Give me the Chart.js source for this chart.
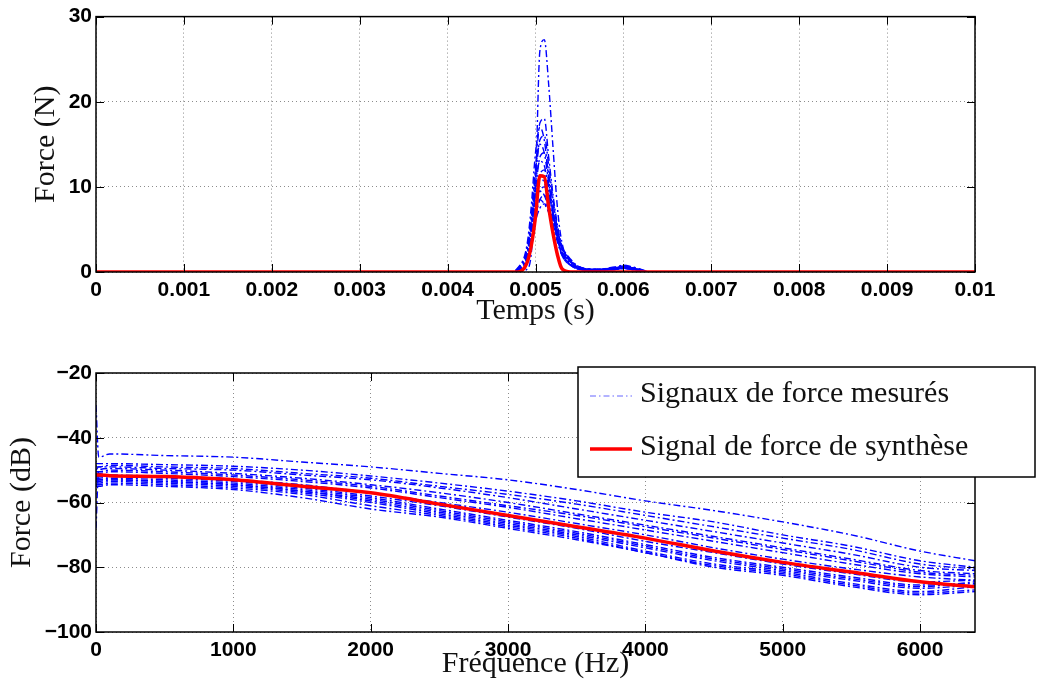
<!DOCTYPE html>
<html>
<head>
<meta charset="utf-8">
<title>Force</title>
<script src="https://cdn.jsdelivr.net/npm/chart.js@4.4.0/dist/chart.umd.min.js"></script>
<style>
    html, body { margin: 0; padding: 0; background: #fff; }
    #wrap { position: relative; width: 1041px; height: 685px; }
    #topChart { position: absolute; left: 0; top: 0; }
    #botChart { position: absolute; left: 0; top: 345px; }
</style>
</head>
<body>
<div id="wrap">
    <canvas id="topChart" width="1041" height="345"></canvas>
    <canvas id="botChart" width="1041" height="340"></canvas>
</div>
<script>
// ---- Top plot: time signals ----
const timeVals = [0, 0.0047, 0.0048, 0.0049, 0.00495, 0.005, 0.00505, 0.0051, 0.00515, 0.0052, 0.00525,
                  0.0053, 0.0054, 0.0055, 0.0057, 0.0059, 0.0060, 0.0061, 0.0062, 0.0063, 0.01];
const synthPulse = [0, 0, 0, 1, 3, 6.5, 11.3, 11.2, 7.6, 4.5, 2, 0.4, 0, 0, 0, 0, 0, 0, 0, 0, 0];
const measuredPulses = [
    [0, 0, 0, 0.3, 2, 10, 26, 27.3, 22, 14.5, 7.5, 3.5, 1.2, 0.5, 0.3, 0.5, 0.7, 0.6, 0.3, 0, 0],
    [0, 0, 0.3, 2, 6, 12, 17.5, 18, 13.5, 9, 5.5, 3, 1.2, 0.5, 0.2, 0.4, 0.6, 0.5, 0.2, 0, 0],
    [0, 0, 0.5, 3, 7.5, 14, 17, 15.5, 11, 7, 4, 2, 0.8, 0.3, 0.2, 0.3, 0.5, 0.4, 0.2, 0, 0],
    [0, 0, 0.2, 1.5, 5, 11, 15.5, 16, 12.5, 8.5, 5, 2.8, 1.2, 0.5, 0.3, 0.6, 0.8, 0.6, 0.3, 0, 0],
    [0, 0, 0.4, 2.5, 6.5, 12, 15, 14, 10.5, 7, 4, 2, 0.8, 0.3, 0.2, 0.3, 0.4, 0.3, 0.1, 0, 0],
    [0, 0, 0.2, 1.5, 4.5, 9.5, 13.5, 14, 11.5, 8, 5, 3, 1.3, 0.5, 0.3, 0.5, 0.6, 0.5, 0.2, 0, 0],
    [0, 0, 0.4, 2.5, 6, 10.5, 13, 12.5, 9.5, 6.5, 4, 2.2, 0.9, 0.4, 0.2, 0.4, 0.5, 0.4, 0.2, 0, 0],
    [0, 0, 0.2, 1.8, 5, 9.5, 11.5, 12, 10, 7, 4.5, 2.6, 1.1, 0.5, 0.3, 0.4, 0.5, 0.4, 0.2, 0, 0],
    [0, 0, 0.4, 2.5, 5.5, 9, 11, 10.5, 8.5, 6, 4, 2.2, 0.9, 0.4, 0.3, 0.5, 0.7, 0.5, 0.2, 0, 0],
    [0, 0, 0.2, 1.5, 4, 7.5, 9.5, 10, 9, 7, 4.8, 3, 1.4, 0.6, 0.3, 0.4, 0.5, 0.4, 0.2, 0, 0],
    [0, 0, 0.3, 2, 5, 8, 9.5, 9, 7.5, 5.5, 3.5, 2, 0.8, 0.3, 0.2, 0.3, 0.4, 0.3, 0.1, 0, 0],
    [0, 0, 0.2, 1.3, 3.5, 6.5, 8.5, 9, 8, 6.5, 4.5, 3, 1.5, 0.6, 0.3, 0.5, 0.6, 0.5, 0.2, 0, 0],
    [0, 0, 0.3, 1.8, 4.5, 7, 8.5, 8, 7, 5.5, 3.8, 2.4, 1, 0.4, 0.2, 0.3, 0.4, 0.3, 0.1, 0, 0],
    [0, 0, 0.2, 1.2, 3.2, 6, 7.5, 8, 7.5, 6, 4.2, 2.8, 1.3, 0.6, 0.3, 0.4, 0.5, 0.4, 0.2, 0, 0]
];
const timeTicks = [0, 0.001, 0.002, 0.003, 0.004, 0.005, 0.006, 0.007, 0.008, 0.009, 0.01];
const timeTickLabels = ['0', '0.001', '0.002', '0.003', '0.004', '0.005', '0.006', '0.007', '0.008', '0.009', '0.01'];
const forceTicks = [0, 10, 20, 30];
const forceTickLabels = ['0', '10', '20', '30'];

// ---- Bottom plot: spectra ----
const freqVals = [0, 20, 100, 500, 1000, 1500, 2000, 2500, 3000, 3500, 4000, 4500, 5000, 5500, 6000, 6400];
const synthSpectrum = [-51.5, -51.5, -51.7, -52, -53, -55, -57, -60.5, -64, -67.5, -71, -75, -78.5, -81.5, -84.5, -86];
const measuredSpectra = [
    [-30, -46, -45, -45.5, -46, -47.5, -49, -51, -53, -56, -59.5, -62.5, -66, -70, -75, -78],
    [-48, -48, -48, -48.3, -48.8, -50, -51.8, -54, -56.5, -59.5, -63, -66, -70, -73.5, -78, -80],
    [-50, -49, -49, -49.5, -50, -51.5, -53, -55.5, -58.5, -62, -65.5, -69, -72.5, -76, -80, -81],
    [-68, -50, -49.5, -50, -51, -52.5, -54.5, -57, -60, -63.5, -67, -70.5, -74, -77.5, -81, -82],
    [-51, -51, -50.5, -51, -52, -53.5, -55.5, -58.5, -61.5, -65, -68.5, -72, -75.5, -79, -82, -83],
    [-52, -52, -51.5, -52, -53, -54.5, -57, -60, -63, -66.5, -70, -74, -77.5, -80.5, -83, -84],
    [-52.5, -52.5, -52, -52.5, -53.5, -55.5, -58, -61, -64.5, -68, -72, -75.5, -79, -82, -84.5, -84],
    [-53, -53, -52.5, -53, -54, -56, -58.5, -62, -65.5, -69, -73, -77, -80, -83, -85.5, -85],
    [-53.5, -53.5, -53, -53.5, -54.5, -56.5, -59.5, -63, -66.5, -70, -74, -78, -81, -84, -86.5, -85.5],
    [-54, -54, -53.5, -54, -55, -57, -60, -63.5, -67, -70.5, -75, -79, -81.5, -85, -87.5, -86],
    [-54.5, -54.5, -54, -54.5, -55.5, -57.5, -61, -64, -67.5, -71, -75.5, -79.5, -82, -85.5, -88, -87],
    [-55, -55, -54.5, -55, -56, -58.5, -62, -64.5, -68, -71.5, -75.5, -80, -82.5, -86, -88.5, -87.5],
    [-50.5, -50.5, -50, -50.5, -51.5, -53, -55, -58, -61, -64, -67.5, -71, -74.5, -78, -81.5, -82.5],
    [-49, -49, -48.5, -49, -49.5, -51, -52.5, -55, -57.5, -60.5, -64, -67.5, -71, -74.5, -79, -80.5],
    [-53, -53, -53, -53.5, -54.5, -56.5, -59, -62.5, -66, -69.5, -73.5, -77.5, -80.5, -83.5, -86, -84.5]
];
const freqTicks = [0, 1000, 2000, 3000, 4000, 5000, 6000];
const freqTickLabels = ['0', '1000', '2000', '3000', '4000', '5000', '6000'];
const dbTicks = [-100, -80, -60, -40, -20];
const dbTickLabels = ['\u2212100', '\u221280', '\u221260', '\u221240', '\u221220'];

const legendLabels = ['Signaux de force mesurés', 'Signal de force de synthèse'];

const blueColor = '#0000ff';
const redColor = '#ff0000';
const tickFont = { family: "'Liberation Sans', Arial, sans-serif", size: 21, weight: 'bold' };
const titleFont = { family: "'Liberation Serif', 'DejaVu Serif', serif", size: 30 };
const legendFont = "30px 'Liberation Serif', 'DejaVu Serif', serif";

function toPoints(xs, ys) {
    return xs.map((x, i) => ({ x: x, y: ys[i] }));
}

// Box round the plot area with inward ticks, like MATLAB
const frameBox = {
    id: 'frameBox',
    afterDatasetsDraw(chart) {
        const ctx = chart.ctx;
        const a = chart.chartArea;
        const sx = chart.scales.x;
        const sy = chart.scales.y;
        ctx.save();
        ctx.setLineDash([]);
        ctx.strokeStyle = '#000';
        ctx.lineWidth = 1;
        ctx.beginPath();
        sx.ticks.forEach(t => {
            const px = Math.round(sx.getPixelForValue(t.value)) + 0.5;
            ctx.moveTo(px, a.bottom); ctx.lineTo(px, a.bottom - 8);
            ctx.moveTo(px, a.top); ctx.lineTo(px, a.top + 8);
        });
        sy.ticks.forEach(t => {
            const py = Math.round(sy.getPixelForValue(t.value)) + 0.5;
            ctx.moveTo(a.left, py); ctx.lineTo(a.left + 8, py);
            ctx.moveTo(a.right, py); ctx.lineTo(a.right - 8, py);
        });
        ctx.stroke();
        ctx.lineWidth = 1.5;
        ctx.strokeRect(a.left, a.top, a.right - a.left, a.bottom - a.top);
        ctx.restore();
    }
};

// Legend box for the bottom plot
const legendBox = {
    id: 'legendBox',
    afterDraw(chart) {
        const ctx = chart.ctx;
        const x0 = 578, y0 = 22, w = 457, h = 110;
        ctx.save();
        ctx.fillStyle = '#fff';
        ctx.fillRect(x0, y0, w, h);
        ctx.strokeStyle = '#000';
        ctx.lineWidth = 1.5;
        ctx.strokeRect(x0, y0, w, h);

        ctx.strokeStyle = blueColor;
        ctx.globalAlpha = 0.6;
        ctx.lineWidth = 1;
        ctx.setLineDash([6, 3, 1.5, 3]);
        ctx.beginPath(); ctx.moveTo(590, 51); ctx.lineTo(632, 51); ctx.stroke();
        ctx.globalAlpha = 1;

        ctx.strokeStyle = redColor;
        ctx.lineWidth = 3.5;
        ctx.setLineDash([]);
        ctx.beginPath(); ctx.moveTo(590, 104); ctx.lineTo(632, 104); ctx.stroke();

        ctx.fillStyle = '#111';
        ctx.font = legendFont;
        ctx.textBaseline = 'middle';
        ctx.fillText(legendLabels[0], 640, 49);
        ctx.fillText(legendLabels[1], 640, 102);
        ctx.restore();
    }
};

function makeScale(min, max, ticks, labels, isY, fitSize, title, titlePad) {
    return {
        type: 'linear',
        min: min,
        max: max,
        afterBuildTicks: axis => { axis.ticks = ticks.map(v => ({ value: v })); },
        afterFit: axis => { if (isY) axis.width = fitSize; else axis.height = fitSize; },
        grid: { color: '#8c8c8c', lineWidth: 1, drawTicks: false },
        border: { display: false, dash: [1, 3] },
        ticks: {
            color: '#000',
            font: tickFont,
            padding: isY ? 4 : 6,
            autoSkip: false,
            maxRotation: 0,
            callback: (value, index) => labels[index]
        },
        title: { display: true, text: title, color: '#111', font: titleFont, padding: titlePad }
    };
}

function blueSet(xs, ys) {
    return {
        data: toPoints(xs, ys),
        borderColor: blueColor,
        borderWidth: 1.4,
        borderDash: [7, 3, 2, 3],
        pointRadius: 0,
        cubicInterpolationMode: 'monotone'
    };
}

function redSet(xs, ys) {
    return {
        data: toPoints(xs, ys),
        borderColor: redColor,
        borderWidth: 3.5,
        pointRadius: 0,
        cubicInterpolationMode: 'monotone'
    };
}

const commonOpts = {
    responsive: false,
    animation: false,
    events: [],
    plugins: { legend: { display: false }, tooltip: { enabled: false } }
};

// Red first so it is drawn on top
new Chart(document.getElementById('topChart').getContext('2d'), {
    type: 'line',
    data: {
        datasets: [redSet(timeVals, synthPulse)].concat(measuredPulses.map(s => blueSet(timeVals, s)))
    },
    options: Object.assign({}, commonOpts, {
        layout: { padding: { left: 0, right: 66, top: 15, bottom: 0 } },
        scales: {
            x: makeScale(0, 0.01, timeTicks, timeTickLabels, false, 73, 'Temps (s)', { top: 0, bottom: 16 }),
            y: makeScale(0, 30, forceTicks, forceTickLabels, true, 96, 'Force (N)', { top: 28, bottom: 0 })
        }
    }),
    plugins: [frameBox]
});

new Chart(document.getElementById('botChart').getContext('2d'), {
    type: 'line',
    data: {
        datasets: [redSet(freqVals, synthSpectrum)].concat(measuredSpectra.map(s => blueSet(freqVals, s)))
    },
    options: Object.assign({}, commonOpts, {
        layout: { padding: { left: 0, right: 66, top: 28, bottom: 0 } },
        scales: {
            x: makeScale(0, 6400, freqTicks, freqTickLabels, false, 53, 'Fréquence (Hz)', { top: 0, bottom: 3 }),
            y: makeScale(-100, -20, dbTicks, dbTickLabels, true, 96, 'Force (dB)', { top: 4, bottom: 0 })
        }
    }),
    plugins: [frameBox, legendBox]
});
</script>
</body>
</html>
